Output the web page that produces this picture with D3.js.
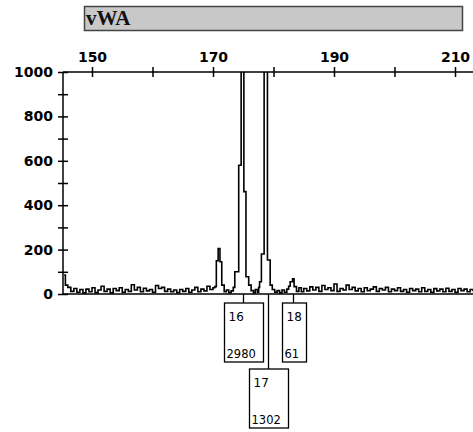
<!DOCTYPE html>
<html>
<head>
<meta charset="utf-8">
<script src="https://cdn.jsdelivr.net/npm/d3@7"></script>
<style>
  body { margin: 0; background: #ffffff; }
  svg { display: block; }
</style>
</head>
<body>
<script>
var width = 473;
var height = 432;

// locus name, axis ticks
var locusName = "vWA";
var sizeTicks = [150, 170, 190, 210];
var sizeMinorTicks = [160, 180, 200];
var rfuTicks = [0, 200, 400, 600, 800, 1000];
var rfuMinorTicks = [100, 300, 500, 700, 900];

// called alleles: name, size (bp) of the label connector, peak height
var alleleNames = ["16", "17", "18"];
var alleleSizes = [174.95, 179.05, 183.3];
var alleleHeights = [2980, 1302, 61];
var alleleRows = [0, 1, 0];

// electropherogram trace, [size bp, rfu]
var traceLeft = [
  [145.4, 85], [145.6, 40], [146.0, 30], [146.5, 12], [147.0, 25], [147.5, 8],
  [148.0, 20], [148.5, 5], [149.0, 22], [149.5, 10], [150.0, 28], [150.5, 6],
  [151.0, 18], [151.5, 35], [152.0, 12], [152.5, 22], [153.0, 5], [153.5, 25],
  [154.0, 15], [154.5, 28], [155.0, 8], [155.5, 20], [156.0, 12], [156.5, 42],
  [157.0, 18], [157.5, 30], [158.0, 10], [158.5, 26], [159.0, 14], [159.5, 20],
  [160.0, 8], [160.5, 38], [161.0, 25], [161.5, 30], [162.0, 12], [162.5, 22],
  [163.0, 10], [163.5, 18], [164.0, 6], [164.5, 20], [165.0, 12], [165.5, 25],
  [166.0, 8], [166.5, 18], [167.0, 30], [167.5, 10], [168.0, 22], [168.5, 14],
  [169.0, 35], [169.5, 20], [170.0, 28]
];
var tracePeaks = [
  [170.3, 33], [170.55, 150], [170.85, 205], [171.15, 145], [171.45, 40], [171.85, 10],
  [172.2, 18], [172.6, 6], [173.0, 14], [173.35, 30], [173.6, 100], [174.25, 580],
  [174.65, 2980], [175.1, 461], [175.45, 78], [175.9, 40], [176.3, 15], [176.7, 5],
  [177.0, 20], [177.35, 8], [177.55, 30], [177.7, 55], [178.0, 180], [178.45, 1302],
  [179.0, 153], [179.45, 40], [179.8, 20], [180.2, 8], [180.6, 15]
];
var traceRight = [
  [181.0, 5], [181.4, 18], [181.8, 8], [182.2, 22], [182.5, 35], [182.75, 55],
  [183.15, 68], [183.4, 33], [183.8, 12], [184.2, 28], [184.6, 10], [185.0, 25],
  [185.5, 14], [186.0, 32], [186.5, 18], [187.0, 30], [187.5, 12], [188.0, 38],
  [188.5, 20], [189.0, 28], [189.5, 15], [190.0, 45], [190.5, 12], [191.0, 25],
  [191.5, 18], [192.0, 40], [192.5, 20], [193.0, 30], [193.5, 14], [194.0, 25],
  [194.5, 10], [195.0, 28], [195.5, 15], [196.0, 22], [196.5, 32], [197.0, 12],
  [197.5, 25], [198.0, 18], [198.5, 30], [199.0, 10], [199.5, 22], [200.0, 15],
  [200.5, 28], [201.0, 12], [201.5, 20], [202.0, 8], [202.5, 25], [203.0, 15],
  [203.5, 22], [204.0, 10], [204.5, 28], [205.0, 12], [205.5, 20], [206.0, 8],
  [206.5, 24], [207.0, 14], [207.5, 22], [208.0, 10], [208.5, 26], [209.0, 12],
  [209.5, 20], [210.0, 8], [210.5, 25], [211.0, 15], [211.5, 22], [212.0, 10],
  [212.5, 20], [213.0, 15], [213.5, 10]
];

var trace = traceLeft.concat(tracePeaks, traceRight);

var plotLeft = 63;
var plotTop = 72;
var plotBottom = 294;

var svg = d3.select("body")
            .append("svg")
            .attr("width", width)
            .attr("height", height);

var x_scale = d3.scaleLinear()
                .domain([150, 210])
                .range([92, 455]);

var y_scale = d3.scaleLinear()
                .domain([0, 1000])
                .range([plotBottom, plotTop]);

// title bar
svg.append("rect")
   .attr("x", 84.5)
   .attr("y", 6.5)
   .attr("width", 378)
   .attr("height", 24)
   .attr("fill", "#c8c8c8")
   .attr("stroke", "#444")
   .attr("stroke-width", 1.5);

svg.append("text")
   .text(locusName)
   .attr("x", 86)
   .attr("y", 25)
   .attr("font-family", "Liberation Serif, serif")
   .attr("font-weight", "bold")
   .attr("font-size", 21)
   .attr("fill", "#111");

// trace, clipped at the top axis
svg.append("clipPath")
   .attr("id", "plotclip")
   .append("rect")
   .attr("x", plotLeft)
   .attr("y", plotTop)
   .attr("width", width - plotLeft)
   .attr("height", plotBottom - plotTop + 2);

var line = d3.line()
             .x(function(d) { return x_scale(d[0]); })
             .y(function(d) { return y_scale(d[1]); })
             .curve(d3.curveStepAfter);

// zero line
svg.append("line")
   .attr("x1", plotLeft)
   .attr("x2", width)
   .attr("y1", y_scale(0))
   .attr("y2", y_scale(0))
   .attr("stroke", "#000")
   .attr("stroke-width", 1.5);

svg.append("path")
   .datum(trace)
   .attr("d", line)
   .attr("clip-path", "url(#plotclip)")
   .attr("fill", "none")
   .attr("stroke", "#000")
   .attr("stroke-width", 1.6);

// axes
function styleAxis(g)
{
  g.select(".domain").remove();
  g.selectAll("text")
   .attr("font-family", "DejaVu Sans, sans-serif")
   .attr("font-weight", "bold")
   .attr("font-size", 14)
   .attr("fill", "#000");
  g.selectAll(".tick line")
   .attr("stroke", "#000")
   .attr("stroke-width", 1.5);
}

var x_axis = d3.axisTop(x_scale).tickValues(sizeTicks).tickSize(5).tickPadding(5);
var x_minor = d3.axisTop(x_scale).tickValues(sizeMinorTicks).tickSize(5).tickFormat("");

svg.append("g")
   .attr("transform", "translate(0," + plotTop + ")")
   .call(x_axis)
   .call(styleAxis)
   .selectAll(".tick line").attr("y1", 5);

svg.append("g")
   .attr("transform", "translate(0," + plotTop + ")")
   .call(x_minor)
   .call(styleAxis)
   .selectAll(".tick line").attr("y1", 5);

var y_axis = d3.axisLeft(y_scale).tickValues(rfuTicks).tickFormat(d3.format("d")).tickSize(5).tickPadding(5);
var y_minor = d3.axisLeft(y_scale).tickValues(rfuMinorTicks).tickSize(5).tickFormat("");

svg.append("g")
   .attr("transform", "translate(" + plotLeft + ",0)")
   .call(y_axis)
   .call(styleAxis)
   .selectAll(".tick line").attr("x1", 5);

svg.append("g")
   .attr("transform", "translate(" + plotLeft + ",0)")
   .call(y_minor)
   .call(styleAxis)
   .selectAll(".tick line").attr("x1", 5);

svg.append("line")
   .attr("x1", plotLeft)
   .attr("x2", width)
   .attr("y1", plotTop)
   .attr("y2", plotTop)
   .attr("stroke", "#000")
   .attr("stroke-width", 1.5);

svg.append("line")
   .attr("x1", plotLeft)
   .attr("x2", plotLeft)
   .attr("y1", plotTop)
   .attr("y2", plotBottom)
   .attr("stroke", "#000")
   .attr("stroke-width", 1.5);

// allele call boxes
var boxTop = [303, 369];
var boxHeight = 59;

var labels = svg.selectAll("g.allele")
                .data(alleleNames)
                .enter()
                .append("g")
                .attr("class", "allele");

labels.append("line")
      .attr("x1", function(d, i) { return Math.round(x_scale(alleleSizes[i])) + 0.5; })
      .attr("x2", function(d, i) { return Math.round(x_scale(alleleSizes[i])) + 0.5; })
      .attr("y1", plotBottom)
      .attr("y2", function(d, i) { return boxTop[alleleRows[i]]; })
      .attr("stroke", "#000")
      .attr("stroke-width", 1.3);

labels.each(function(d, i)
{
  var g = d3.select(this);
  var cx = Math.round(x_scale(alleleSizes[i])) + 0.5;
  var top = boxTop[alleleRows[i]];
  var chars = Math.max(d.length, String(alleleHeights[i]).length);
  var w = chars * 7.5 + 9;
  var left = Math.round(cx - w / 2) + 0.5;

  g.append("rect")
   .attr("x", left)
   .attr("y", top)
   .attr("width", w)
   .attr("height", boxHeight)
   .attr("fill", "#fff")
   .attr("stroke", "#000")
   .attr("stroke-width", 1.3);

  g.append("text")
   .text(d)
   .attr("x", left + 4)
   .attr("y", top + 18)
   .attr("font-family", "DejaVu Sans, sans-serif")
   .attr("font-size", 12)
   .attr("fill", "#000");

  g.append("text")
   .text(alleleHeights[i])
   .attr("x", left + 2)
   .attr("y", top + 55)
   .attr("font-family", "DejaVu Sans, sans-serif")
   .attr("font-size", 11.5)
   .attr("fill", "#000");
});
</script>
</body>
</html>
